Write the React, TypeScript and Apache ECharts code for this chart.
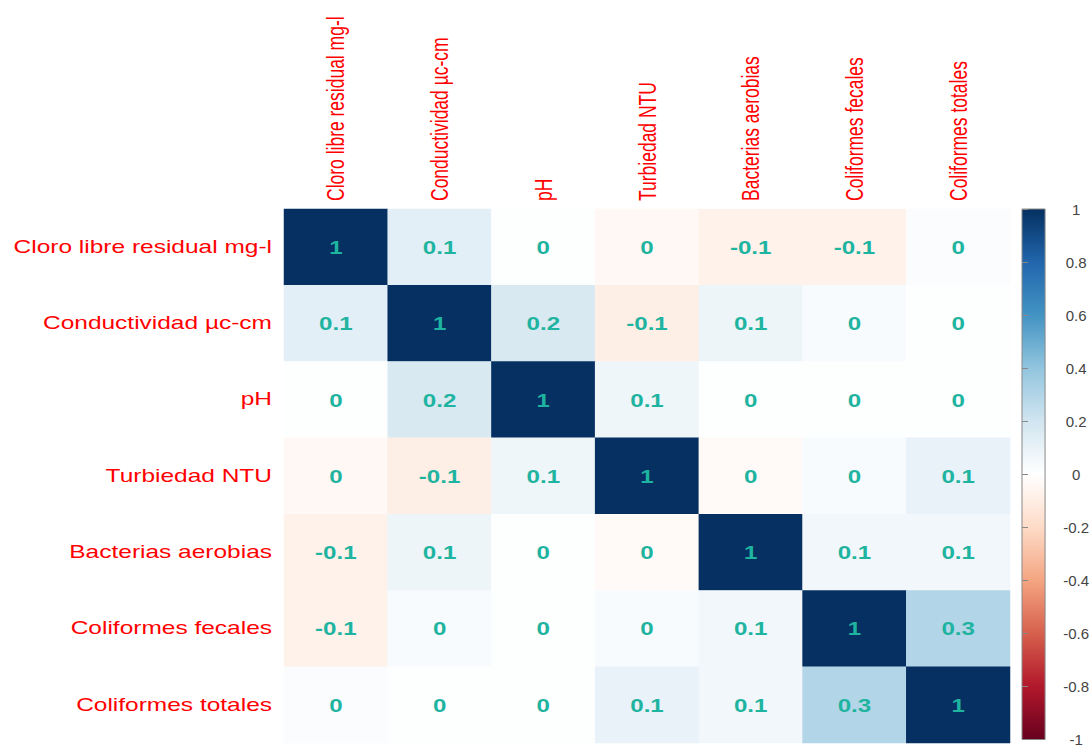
import React, { useEffect, useRef } from "react";
import * as echarts from "echarts";

const VARIABLES = [
  "Cloro libre residual mg-l",
  "Conductividad µc-cm",
  "pH",
  "Turbiedad NTU",
  "Bacterias aerobias",
  "Coliformes fecales",
  "Coliformes totales",
];

// correlation rows (printed rounded to 1 decimal)
const cloro = [1, 0.12, 0.01, -0.04, -0.07, -0.07, 0.02];
const conductividad = [0.12, 1, 0.17, -0.09, 0.08, 0.03, 0.01];
const ph = [0.01, 0.17, 1, 0.07, 0.01, 0.01, 0.01];
const turbiedad = [-0.04, -0.09, 0.07, 1, -0.03, 0.03, 0.1];
const bacterias = [-0.07, 0.08, 0.01, -0.03, 1, 0.06, 0.06];
const colifFecales = [-0.07, 0.03, 0.01, 0.03, 0.06, 1, 0.3];
const colifTotales = [0.02, 0.01, 0.01, 0.1, 0.06, 0.3, 1];

const MATRIX = [cloro, conductividad, ph, turbiedad, bacterias, colifFecales, colifTotales];

const SCALE_MIN = -1;
const SCALE_MAX = 1;
const SCALE_STEP = 0.2;

// RdBu palette, from -1 to 1
const PALETTE = [
  "#67001F", "#B2182B", "#D6604D", "#F4A582", "#FDDBC7", "#FFFFFF",
  "#D1E5F0", "#92C5DE", "#4393C3", "#2166AC", "#053061",
];

const fmt = (v: number) => {
  const r = Math.round(v * 10) / 10;
  return String(r === 0 ? 0 : r);
};

export default function App() {
  const ref = useRef<HTMLDivElement>(null);
  useEffect(() => {
    document.body.style.margin = "0";
    const chart = echarts.init(ref.current!, null, { renderer: "svg" });
    const FONT = '"Liberation Sans", Arial, sans-serif';
    const cells: number[][] = [];
    MATRIX.forEach((row, r) => row.forEach((v, c) => cells.push([c, r, v])));

    chart.setOption({
      animation: false,
      backgroundColor: "#ffffff",
      grid: [
        { left: 284, top: 209, width: 726, height: 534 },
        { left: 1022, top: 209, width: 25, height: 536 },
      ],
      xAxis: [
        {
          type: "category", gridIndex: 0, data: VARIABLES, position: "top",
          axisLine: { show: false }, axisTick: { show: false }, axisLabel: { show: false },
          splitLine: { show: false },
        },
        { type: "value", gridIndex: 1, show: false, min: 0, max: 1 },
      ],
      yAxis: [
        {
          type: "category", gridIndex: 0, data: VARIABLES, inverse: true,
          axisLine: { show: false }, axisTick: { show: false }, axisLabel: { show: false },
          splitLine: { show: false },
        },
        {
          type: "value", gridIndex: 1, position: "right",
          min: SCALE_MIN, max: SCALE_MAX, interval: SCALE_STEP,
          axisLine: { show: false },
          axisTick: { show: true, length: 6, lineStyle: { color: "#888" } },
          splitLine: { show: false },
          axisLabel: {
            align: "center", margin: 31, fontSize: 15, color: "#444",
            fontFamily: FONT, formatter: (v: number) => fmt(v),
          },
        },
      ],
      visualMap: {
        show: false, seriesIndex: 0, min: SCALE_MIN, max: SCALE_MAX,
        inRange: { color: PALETTE },
      },
      series: [
        {
          type: "heatmap", xAxisIndex: 0, yAxisIndex: 0, data: cells,
          itemStyle: { borderWidth: 0 },
          emphasis: { disabled: true },
        },
        {
          type: "custom", xAxisIndex: 0, yAxisIndex: 0, data: cells, z: 5,
          renderItem: (params: any, api: any) => {
            const p = api.coord([api.value(0), api.value(1)]);
            return {
              type: "text", x: p[0], y: p[1] + 1, scaleX: 1.34,
              style: {
                text: fmt(api.value(2) as number), fill: "#1FB4A0",
                fontSize: 18, fontWeight: "bold", fontFamily: FONT,
                align: "center", verticalAlign: "middle",
              },
            };
          },
        },
      ],
    });

    const graphics: any[] = [];
    VARIABLES.forEach((name) => {
      const x = chart.convertToPixel({ xAxisIndex: 0 }, name) as number;
      const y = chart.convertToPixel({ yAxisIndex: 0 }, name) as number;
      graphics.push({
        type: "text", x, y: 201, rotation: Math.PI / 2, scaleY: 1.37,
        style: {
          text: name, fill: "#ff0000", fontSize: 17.5, fontFamily: FONT,
          align: "left", verticalAlign: "middle",
        },
      });
      graphics.push({
        type: "text", x: 272, y, scaleX: 1.4,
        style: {
          text: name, fill: "#ff0000", fontSize: 17.5, fontFamily: FONT,
          align: "right", verticalAlign: "middle",
        },
      });
    });
    const yTop = chart.convertToPixel({ yAxisIndex: 1 }, SCALE_MAX) as number;
    const yBot = chart.convertToPixel({ yAxisIndex: 1 }, SCALE_MIN) as number;
    const xL = chart.convertToPixel({ xAxisIndex: 1 }, 0) as number;
    const xR = chart.convertToPixel({ xAxisIndex: 1 }, 1) as number;
    graphics.push({
      type: "rect",
      shape: { x: xL, y: yTop, width: xR - xL, height: yBot - yTop },
      style: {
        fill: new echarts.graphic.LinearGradient(
          0, 0, 0, 1,
          PALETTE.slice().reverse().map((c, i) => ({ offset: i / (PALETTE.length - 1), color: c }))
        ),
        stroke: "#888", lineWidth: 1,
      },
    });
    chart.setOption({ graphic: graphics });

    return () => chart.dispose();
  }, []);
  return <div ref={ref} style={{ width: 1092, height: 747 }} />;
}
